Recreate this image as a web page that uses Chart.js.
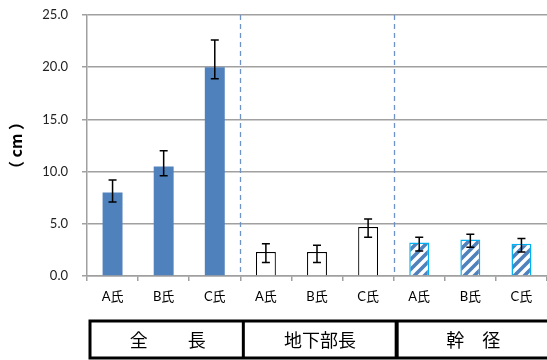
<!DOCTYPE html>
<html>
<head>
<meta charset="utf-8">
<script src="https://cdn.jsdelivr.net/npm/chart.js@4/dist/chart.umd.min.js"></script>
<style>
  html, body { margin: 0; padding: 0; background: #fff; }
  #wrap { width: 547px; height: 360px; position: relative; }
</style>
</head>
<body>
<div id="wrap"><canvas id="c" width="547" height="360"></canvas></div>
<script>
// ---- data ----
const categories = ['A氏', 'B氏', 'C氏', 'A氏', 'B氏', 'C氏', 'A氏', 'B氏', 'C氏'];
const groups = ['全　　 長', '地下部長', '幹　径'];
const values = [8.0, 10.5, 20.0, 2.3, 2.3, 4.7, 3.2, 3.5, 3.1];
const errLow  = [7.1, 9.6, 18.9, 1.3, 1.3, 3.7, 2.4, 2.75, 2.3];
const errHigh = [9.2, 12.0, 22.6, 3.1, 2.95, 5.45, 3.7, 4.0, 3.6];
const yTicks = [0, 5, 10, 15, 20, 25];
const yTitle = '（ cm ）';

// ---- hatch pattern for the third group ----
function makeHatch() {
  const p = document.createElement('canvas');
  p.width = 10; p.height = 10;
  const g = p.getContext('2d');
  g.fillStyle = '#ffffff';
  g.fillRect(0, 0, 10, 10);
  g.strokeStyle = '#4f81bd';
  g.lineWidth = 3.6;
  g.beginPath();
  g.moveTo(-3, 13); g.lineTo(13, -3);
  g.moveTo(-8, 8); g.lineTo(8, -8);
  g.moveTo(2, 18); g.lineTo(18, 2);
  g.stroke();
  return document.getElementById('c').getContext('2d').createPattern(p, 'repeat');
}
const hatch = makeHatch();

const fills = ['#4f81bd', '#4f81bd', '#4f81bd', '#ffffff', '#ffffff', '#ffffff', hatch, hatch, hatch];
const borders = ['#4f81bd', '#4f81bd', '#4f81bd', '#000000', '#000000', '#000000', '#00b0f0', '#00b0f0', '#00b0f0'];
const borderW = [0, 0, 0, 1.2, 1.2, 1.2, 1.5, 1.5, 1.5];

const FONT = "Lato, 'Noto Sans CJK JP', sans-serif";

const extras = {
  id: 'extras',
  afterDatasetsDraw(chart) {
    const ctx = chart.ctx;
    const xs = chart.scales.x, ys = chart.scales.y;
    const area = chart.chartArea;
    const meta = chart.getDatasetMeta(0);
    // error bars
    ctx.save();
    ctx.strokeStyle = '#000';
    ctx.lineWidth = 1.5;
    meta.data.forEach((bar, i) => {
      const x = bar.x;
      const yl = ys.getPixelForValue(errLow[i]);
      const yh = ys.getPixelForValue(errHigh[i]);
      ctx.beginPath();
      ctx.moveTo(x, yl); ctx.lineTo(x, yh);
      ctx.moveTo(x - 4, yl); ctx.lineTo(x + 4, yl);
      ctx.moveTo(x - 4, yh); ctx.lineTo(x + 4, yh);
      ctx.stroke();
    });
    ctx.restore();
    // dashed group separators
    ctx.save();
    ctx.strokeStyle = '#6f93c8';
    ctx.lineWidth = 1.3;
    ctx.setLineDash([5, 4]);
    [3, 6].forEach(k => {
      const x = Math.round((xs.getPixelForTick(k - 1) + xs.getPixelForTick(k)) / 2) + 0.5;
      ctx.beginPath();
      ctx.moveTo(x, area.top);
      ctx.lineTo(x, area.bottom);
      ctx.stroke();
    });
    ctx.restore();
  },
  afterDraw(chart) {
    const ctx = chart.ctx;
    const xs = chart.scales.x;
    const bnd = k => (k === 0 ? xs.left : (k === 9 ? xs.right : (xs.getPixelForTick(k - 1) + xs.getPixelForTick(k)) / 2));
    const top = 321, bottom = 358;
    ctx.save();
    ctx.strokeStyle = '#000';
    ctx.lineWidth = 3;
    ctx.strokeRect(bnd(0) + 3, top, bnd(9) + 10 - (bnd(0) + 3), bottom - top);
    ctx.beginPath();
    ctx.moveTo(bnd(3) + 3, top); ctx.lineTo(bnd(3) + 3, bottom);
    ctx.stroke();
    ctx.lineWidth = 4;
    ctx.beginPath();
    ctx.moveTo(bnd(6) + 3, top); ctx.lineTo(bnd(6) + 3, bottom);
    ctx.stroke();
    ctx.fillStyle = '#000';
    ctx.font = "18px 'Noto Sans CJK JP', sans-serif";
    ctx.textAlign = 'center';
    ctx.textBaseline = 'middle';
    const centers = [(bnd(0) + bnd(3)) / 2 + 4, (bnd(3) + bnd(6)) / 2 + 3, (bnd(6) + bnd(9)) / 2 + 3];
    groups.forEach((g, i) => ctx.fillText(g, centers[i], 340));
    ctx.restore();
  }
};

new Chart(document.getElementById('c'), {
  type: 'bar',
  data: {
    labels: categories,
    datasets: [{
      data: values,
      backgroundColor: fills,
      borderColor: borders,
      borderWidth: borderW,
      barPercentage: 0.78,
      categoryPercentage: 0.5
    }]
  },
  options: {
    responsive: false,
    animation: false,
    devicePixelRatio: 1,
    layout: { padding: { top: 15, right: -2, bottom: 0, left: 0 } },
    plugins: { legend: { display: false }, tooltip: { enabled: false } },
    scales: {
      x: {
        afterFit(s) { s.height = 84; s.paddingLeft = 0; s.paddingRight = 0; },
        border: { display: true, color: '#a0a0a0', width: 1.5 },
        grid: { display: true, drawOnChartArea: false, drawTicks: true, tickLength: 5, offset: true, color: '#a0a0a0', lineWidth: 1.5 },
        ticks: { color: '#000', font: { family: FONT, size: 13 }, padding: 8, maxRotation: 0, autoSkip: false }
      },
      y: {
        min: 0, max: 25,
        afterFit(s) { s.width = 87; s.paddingTop = 0; s.paddingBottom = 0; },
        afterBuildTicks(s) { s.ticks = yTicks.map(v => ({ value: v })); },
        border: { display: true, color: '#a0a0a0', width: 1.5 },
        grid: { color: '#a0a0a0', lineWidth: 1.5, tickLength: 5 },
        ticks: { color: '#222', font: { family: FONT, size: 13 }, padding: 14, callback: v => Number(v).toFixed(1) },
        title: { display: true, text: yTitle, color: '#000', font: { family: "'Noto Sans CJK JP', sans-serif", size: 16, weight: 'bold' }, padding: { top: 6, bottom: 0 } }
      }
    }
  },
  plugins: [extras]
});
</script>
</body>
</html>
